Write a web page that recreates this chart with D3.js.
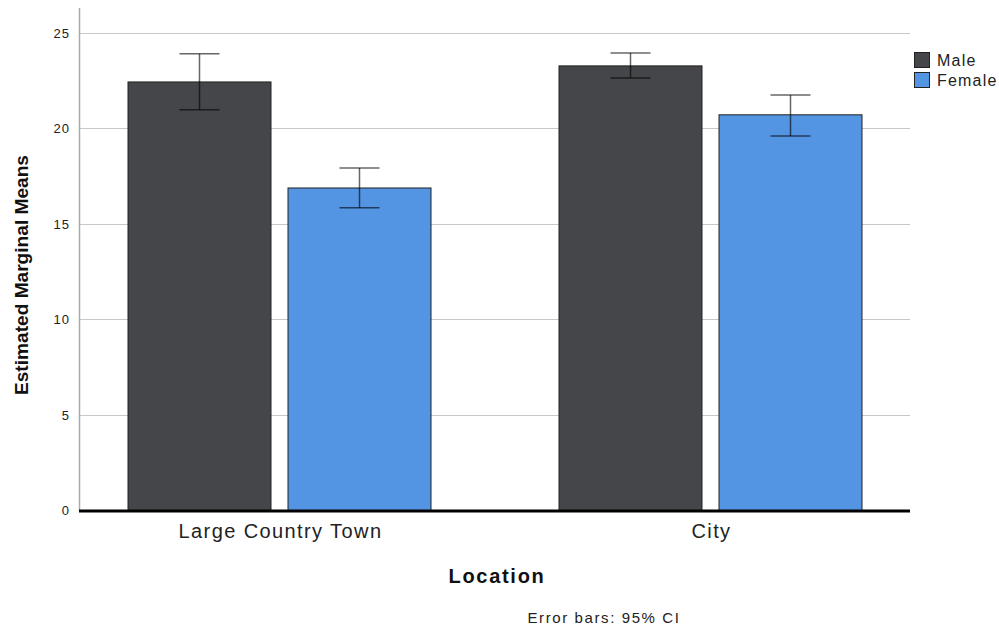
<!DOCTYPE html>
<html><head><meta charset="utf-8">
<script src="https://cdn.jsdelivr.net/npm/d3@7"></script>
<style>body{margin:0;background:#fff}svg{display:block}text{font-family:"Liberation Sans",Arial,sans-serif}</style>
</head><body><svg id="c" width="999" height="627"></svg>
<script>
const locations = ["Large Country Town", "City"];
const sexes = ["Male", "Female"];
const means = { "Large Country Town": [22.43, 16.88], "City": [23.27, 20.71] };
const ciLow = { "Large Country Town": [20.97, 15.84], "City": [22.64, 19.60] };
const ciHigh = { "Large Country Town": [23.90, 17.93], "City": [23.95, 21.75] };
const yTicks = [0, 5, 10, 15, 20, 25];
const colors = ["#454649", "#5394e3"];

const svg = d3.select("#c");
const pLeft = 79, pRight = 910, pTop = 8, pBottom = 510.5;
const y = d3.scaleLinear().domain([0, 26.3]).range([pBottom, pTop]);
const x = d3.scaleBand().domain(locations).range([64, 926]).padding(0);
const gw = 304;
const xs = d3.scaleBand().domain(sexes).range([0, gw]).paddingInner(0.1);

// grid
svg.append("g").selectAll("line").data(yTicks.filter(d => d > 0)).join("line")
  .attr("x1", pLeft).attr("x2", pRight)
  .attr("y1", d => Math.round(y(d)) + 0.5).attr("y2", d => Math.round(y(d)) + 0.5)
  .attr("stroke", "#c8c8c8").attr("stroke-width", 1);

// y axis
const yAxis = d3.axisLeft(y).tickValues(yTicks).tickSize(0).tickPadding(9);
const ga = svg.append("g").attr("transform", `translate(${pLeft},0)`).call(yAxis);
ga.select(".domain").remove();
ga.selectAll("text").attr("font-size", 13).attr("fill", "#222").attr("letter-spacing", 1)
  .attr("font-family", '"Liberation Sans",Arial,sans-serif');
svg.append("line").attr("x1", pLeft + 0.5).attr("x2", pLeft + 0.5).attr("y1", pTop).attr("y2", pBottom)
  .attr("stroke", "#aaa").attr("stroke-width", 1.5);

// bars
const groups = svg.append("g").selectAll("g").data(locations).join("g")
  .attr("transform", d => `translate(${x(d) + x.bandwidth() / 2 - gw / 2},0)`);
groups.selectAll("rect").data(loc => sexes.map((s, i) => ({ loc, s, i, v: means[loc][i] })))
  .join("rect")
  .attr("x", d => xs(d.s) + 0.5).attr("width", xs.bandwidth() - 1)
  .attr("y", d => y(d.v)).attr("height", d => pBottom - y(d.v))
  .attr("fill", d => colors[d.i]).attr("stroke", "#222").attr("stroke-width", 1);

// error bars
const eb = groups.selectAll("g.eb").data(loc => sexes.map((s, i) => ({ s, i, lo: ciLow[loc][i], hi: ciHigh[loc][i] })))
  .join("g").attr("class", "eb")
  .attr("transform", d => `translate(${xs(d.s) + xs.bandwidth() / 2},0)`)
  .attr("stroke", "#000").attr("stroke-opacity", 0.6).attr("stroke-width", 1.5);
eb.append("line").attr("x1", 0).attr("x2", 0).attr("y1", d => y(d.hi)).attr("y2", d => y(d.lo));
eb.append("line").attr("x1", -20).attr("x2", 20).attr("y1", d => y(d.hi)).attr("y2", d => y(d.hi));
eb.append("line").attr("x1", -20).attr("x2", 20).attr("y1", d => y(d.lo)).attr("y2", d => y(d.lo));

// baseline
svg.append("line").attr("x1", pLeft).attr("x2", pRight).attr("y1", pBottom + 0.5).attr("y2", pBottom + 0.5)
  .attr("stroke", "#000").attr("stroke-width", 3);

// x labels
svg.append("g").selectAll("text").data(locations).join("text")
  .attr("x", d => x(d) + x.bandwidth() / 2 + 1).attr("y", 538)
  .attr("text-anchor", "middle").attr("font-size", 20).attr("letter-spacing", 1.4)
  .attr("fill", "#222").text(d => d);

svg.append("text").attr("x", 497).attr("y", 583).attr("text-anchor", "middle")
  .attr("font-size", 20).attr("font-weight", "bold").attr("letter-spacing", 1.7)
  .attr("fill", "#111").text("Location");

svg.append("text").attr("x", 604).attr("y", 623).attr("text-anchor", "middle")
  .attr("font-size", 15).attr("letter-spacing", 1.6).attr("fill", "#222").text("Error bars: 95% CI");

svg.append("text").attr("transform", "translate(28,275) rotate(-90)").attr("text-anchor", "middle")
  .attr("font-size", 18).attr("font-weight", "bold").attr("fill", "#111")
  .attr("textLength", 240).attr("lengthAdjust", "spacingAndGlyphs").text("Estimated Marginal Means");

// legend
const lg = svg.append("g").selectAll("g").data(sexes).join("g")
  .attr("transform", (d, i) => `translate(914,${52 + i * 20})`);
lg.append("rect").attr("x", 0.5).attr("y", 0.5).attr("width", 15).attr("height", 15)
  .attr("fill", (d, i) => colors[i]).attr("stroke", "#222").attr("stroke-width", 1);
lg.append("text").attr("x", 23).attr("y", 14).attr("font-size", 16).attr("letter-spacing", 1.2)
  .attr("fill", "#222").text(d => d);
</script></body></html>
